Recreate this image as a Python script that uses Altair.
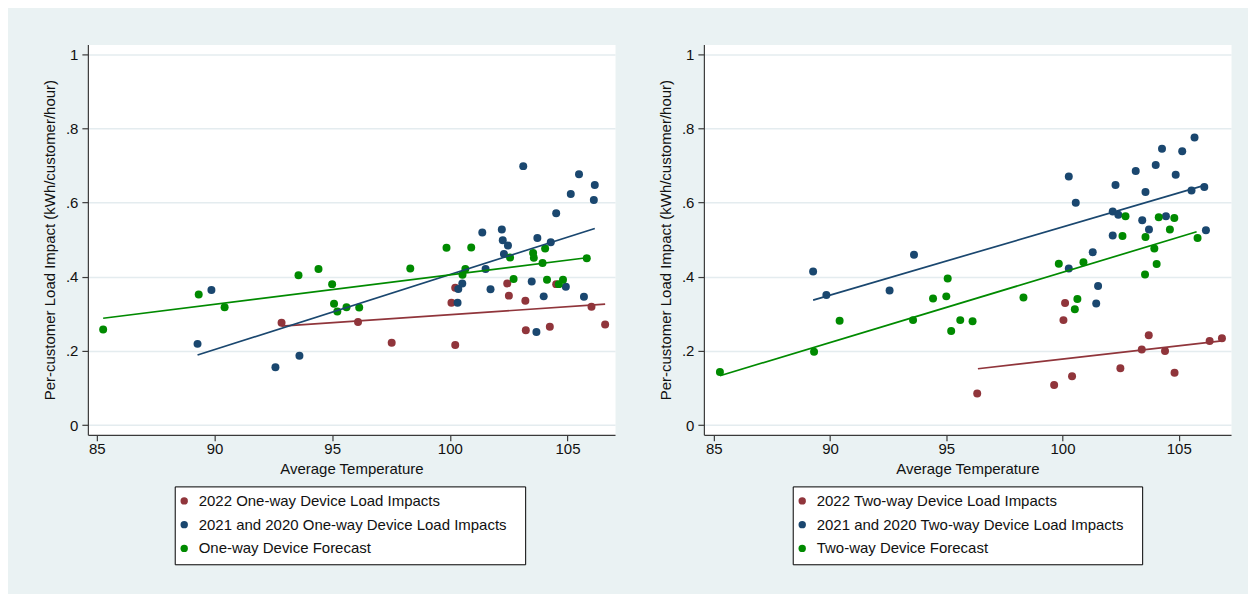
import altair as alt
import pandas as pd

# ---------------- data ----------------
# Left panel: One-way devices
ow_2022_x = [92.85, 96.10, 97.53, 100.07, 100.23, 100.23, 102.44, 102.51, 103.21, 103.23, 104.25, 104.52, 106.02, 106.60]
ow_2022_y = [0.276, 0.278, 0.222, 0.330, 0.370, 0.216, 0.382, 0.349, 0.335, 0.256, 0.265, 0.380, 0.319, 0.271]

ow_prev_x = [89.28, 89.87, 92.59, 93.61, 100.33, 100.36, 100.53, 101.38, 101.52, 101.73, 102.21, 102.25, 102.30, 102.47,
             103.12, 103.48, 103.68, 103.72, 103.99, 104.29, 104.52, 104.93, 105.14, 105.49, 105.70, 106.12, 106.16]
ow_prev_y = [0.219, 0.364, 0.156, 0.187, 0.330, 0.367, 0.382, 0.519, 0.421, 0.366, 0.527, 0.498, 0.461, 0.484,
             0.698, 0.387, 0.251, 0.504, 0.347, 0.493, 0.571, 0.373, 0.623, 0.676, 0.346, 0.607, 0.647]

ow_fc_x = [85.27, 89.33, 90.43, 93.57, 94.42, 95.00, 95.08, 95.22, 95.61, 96.15, 98.32, 99.86, 100.54, 100.66, 100.91,
           102.56, 102.71, 103.54, 103.57, 103.94, 104.05, 104.13, 104.63, 104.81, 105.82]
ow_fc_y = [0.258, 0.352, 0.318, 0.404, 0.421, 0.380, 0.327, 0.306, 0.318, 0.317, 0.422, 0.478, 0.405, 0.421, 0.479,
           0.452, 0.394, 0.464, 0.451, 0.437, 0.476, 0.392, 0.380, 0.392, 0.450]

# fitted lines (endpoints)
ow_fit_2022_x = [92.85, 106.60]
ow_fit_2022_y = [0.267, 0.326]
ow_fit_prev_x = [89.28, 106.16]
ow_fit_prev_y = [0.189, 0.530]
ow_fit_fc_x = [85.27, 105.82]
ow_fit_fc_y = [0.288, 0.451]

# Right panel: Two-way devices
tw_2022_x = [96.33, 99.64, 100.04, 100.11, 100.41, 102.49, 103.41, 103.71, 104.41, 104.82, 106.33, 106.86]
tw_2022_y = [0.085, 0.108, 0.283, 0.329, 0.132, 0.153, 0.204, 0.242, 0.200, 0.141, 0.227, 0.234]

tw_prev_x = [89.27, 89.84, 92.56, 93.61, 100.27, 100.27, 100.57, 101.30, 101.45, 101.53, 102.16, 102.16, 102.28, 102.40,
             103.15, 103.43, 103.57, 103.72, 104.01, 104.28, 104.45, 104.87, 105.15, 105.55, 105.68, 106.10, 106.17]
tw_prev_y = [0.414, 0.351, 0.363, 0.459, 0.670, 0.422, 0.599, 0.466, 0.328, 0.375, 0.576, 0.511, 0.647, 0.567,
             0.685, 0.552, 0.628, 0.527, 0.701, 0.745, 0.563, 0.675, 0.738, 0.632, 0.775, 0.642, 0.525]

tw_fc_x = [85.26, 89.31, 90.41, 93.57, 94.43, 95.00, 95.06, 95.21, 95.60, 96.13, 98.32, 99.84, 100.53, 100.64, 100.90,
           102.58, 102.71, 103.55, 103.57, 103.95, 104.05, 104.14, 104.62, 104.81, 105.81]
tw_fc_y = [0.143, 0.198, 0.281, 0.283, 0.341, 0.347, 0.395, 0.254, 0.283, 0.280, 0.344, 0.435, 0.312, 0.340, 0.439,
           0.510, 0.563, 0.406, 0.507, 0.476, 0.434, 0.560, 0.527, 0.558, 0.504]

tw_fit_2022_x = [96.36, 106.86]
tw_fit_2022_y = [0.152, 0.227]
tw_fit_prev_x = [89.27, 106.10]
tw_fit_prev_y = [0.337, 0.646]
tw_fit_fc_x = [85.26, 105.77]
tw_fit_fc_y = [0.133, 0.521]

ow_labels = ["2022 One-way Device Load Impacts",
             "2021 and 2020 One-way Device Load Impacts",
             "One-way Device Forecast"]
tw_labels = ["2022 Two-way Device Load Impacts",
             "2021 and 2020 Two-way Device Load Impacts",
             "Two-way Device Forecast"]

x_ticks = [85, 90, 95, 100, 105]
y_ticks = [0, 0.2, 0.4, 0.6, 0.8, 1]

COLORS = ["#90353B", "#1A476F", "#008A00"]
FONT = "Liberation Sans"
TEXT = "#111111"
AXIS_COL = "#3A3A3A"
FS = 15


def long_df(xs_list, ys_list, labels):
    rows = []
    for xs, ys, lab in zip(xs_list, ys_list, labels):
        for x, y in zip(xs, ys):
            rows.append({"temp": x, "impact": y, "series": lab})
    return pd.DataFrame(rows)


def panel(pts_x, pts_y, fit_x, fit_y, labels, xdom, legend_x):
    pts = long_df(pts_x, pts_y, labels)
    fits = long_df(fit_x, fit_y, labels)
    cscale = alt.Scale(domain=labels, range=COLORS)
    xenc = alt.X("temp:Q", title="Average Temperature",
                 scale=alt.Scale(domain=xdom, nice=False, zero=False),
                 axis=alt.Axis(values=x_ticks, format="d", grid=False, tickSize=6,
                               labelPadding=1, titlePadding=5))
    yenc = alt.Y("impact:Q", title="Per-customer Load Impact (kWh/customer/hour)",
                 scale=alt.Scale(domain=[-0.026, 1.026], nice=False, zero=False),
                 axis=alt.Axis(values=y_ticks, grid=True, tickSize=6, labelPadding=4,
                               titlePadding=8,
                               labelExpr="datum.value == 0 ? '0' : datum.value == 1 ? '1' : replace(format(datum.value, '.1f'), '0.', '.')"))
    legend = alt.Legend(title=None, orient="none", legendX=legend_x, legendY=442.7,
                        direction="vertical", symbolType="circle", symbolSize=55,
                        symbolStrokeWidth=0, symbolOffset=-5,
                        labelFont=FONT, labelFontSize=FS,
                        labelColor=TEXT, labelLimit=1000, labelOffset=7,
                        rowPadding=7.8, padding=7, strokeColor="#000000",
                        fillColor="#FFFFFF",
                        labelExpr="datum.label + '\u2800'")
    p = alt.Chart(pts).mark_circle(size=64, opacity=1).encode(
        x=xenc, y=yenc,
        color=alt.Color("series:N", scale=cscale, legend=legend),
    )
    l = alt.Chart(fits).mark_line(strokeWidth=1.7).encode(
        x=xenc, y=yenc,
        color=alt.Color("series:N", scale=cscale, legend=None),
        detail="series:N",
    )
    return alt.layer(p, l).properties(width=528, height=391)


left = panel([ow_2022_x, ow_prev_x, ow_fc_x], [ow_2022_y, ow_prev_y, ow_fc_y],
             [ow_fit_2022_x, ow_fit_prev_x, ow_fit_fc_x], [ow_fit_2022_y, ow_fit_prev_y, ow_fit_fc_y],
             ow_labels, [84.62, 107.02], 87)
right = panel([tw_2022_x, tw_prev_x, tw_fc_x], [tw_2022_y, tw_prev_y, tw_fc_y],
              [tw_fit_2022_x, tw_fit_prev_x, tw_fit_fc_x], [tw_fit_2022_y, tw_fit_prev_y, tw_fit_fc_y],
              tw_labels, [84.57, 107.25], 89)

chart = alt.hconcat(left, right, spacing=89, bounds="flush").resolve_scale(
    color="independent"
).properties(
    padding={"left": 33, "top": 35, "right": 16, "bottom": 28},
    background="#EAF2F3",
).configure_view(
    fill="#FFFFFF", stroke="transparent"
).configure_axis(
    labelFont=FONT, titleFont=FONT, labelFontSize=FS, titleFontSize=FS,
    labelColor=TEXT, titleColor=TEXT, titleFontWeight="normal",
    domainColor=AXIS_COL, tickColor=AXIS_COL, domainWidth=1.2, tickWidth=1.2,
    gridColor="#E4ECEF", gridWidth=1.5,
)

chart.save("out.html", embed_options={"renderer": "svg", "actions": False})
